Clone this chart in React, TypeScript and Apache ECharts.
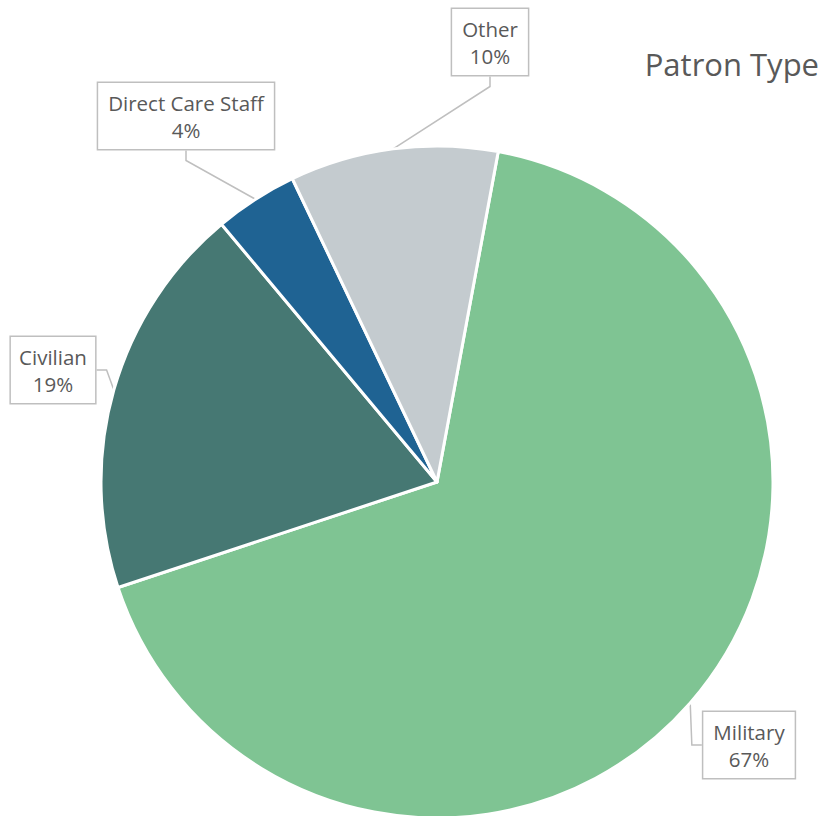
import React, { useEffect, useRef } from "react";
import * as echarts from "echarts";

const categories = ["Military", "Civilian", "Direct Care Staff", "Other"];
const values = [67, 19, 4, 10];
const colors = ["#7FC493", "#467873", "#1F6393", "#C4CBCF"];
const labelCenters = [
  [749, 745],
  [53, 370],
  [186, 116],
  [490, 42],
];

export default function App() {
  const ref = useRef<HTMLDivElement>(null);
  useEffect(() => {
    if (!ref.current) return;
    const chart = echarts.init(ref.current, undefined, { renderer: "svg" });
    chart.setOption({
      animation: false,
      backgroundColor: "#ffffff",
      title: {
        text: "Patron Type",
        right: 4,
        top: 43,
        textStyle: {
          fontFamily: "Open Sans",
          fontSize: 31,
          fontWeight: "normal",
          color: "#595959",
        },
      },
      series: [
        {
          type: "pie",
          center: [437, 482],
          radius: [0, 336],
          startAngle: 79.5,
          clockwise: true,
          percentPrecision: 0,
          data: categories.map((c, i) => ({
            name: c,
            value: values[i],
            itemStyle: { color: colors[i] },
          })),
          itemStyle: { borderColor: "#ffffff", borderWidth: 3 },
          label: {
            show: true,
            formatter: "{b}\n{d}%",
            fontFamily: "Open Sans",
            fontSize: 20.5,
            lineHeight: 27,
            color: "#595959",
            backgroundColor: "#ffffff",
            borderColor: "#BFBFBF",
            borderWidth: 1.5,
            padding: [6, 10, 6, 10],
            align: "center",
            overflow: "none",
            edgeDistance: 0,
          },
          labelLine: {
            show: true,
            length: 10,
            length2: 10,
            lineStyle: { color: "#BFBFBF", width: 1.5 },
          },
          labelLayout: (params: any) => {
            const p = labelCenters[params.dataIndex];
            return {
              x: p[0],
              y: p[1],
              align: "center",
              verticalAlign: "middle",
            };
          },
        },
      ],
    });
    return () => chart.dispose();
  }, []);
  return (
    <div
      ref={ref}
      style={{ position: "fixed", left: 0, top: 0, width: 828, height: 816 }}
    />
  );
}
